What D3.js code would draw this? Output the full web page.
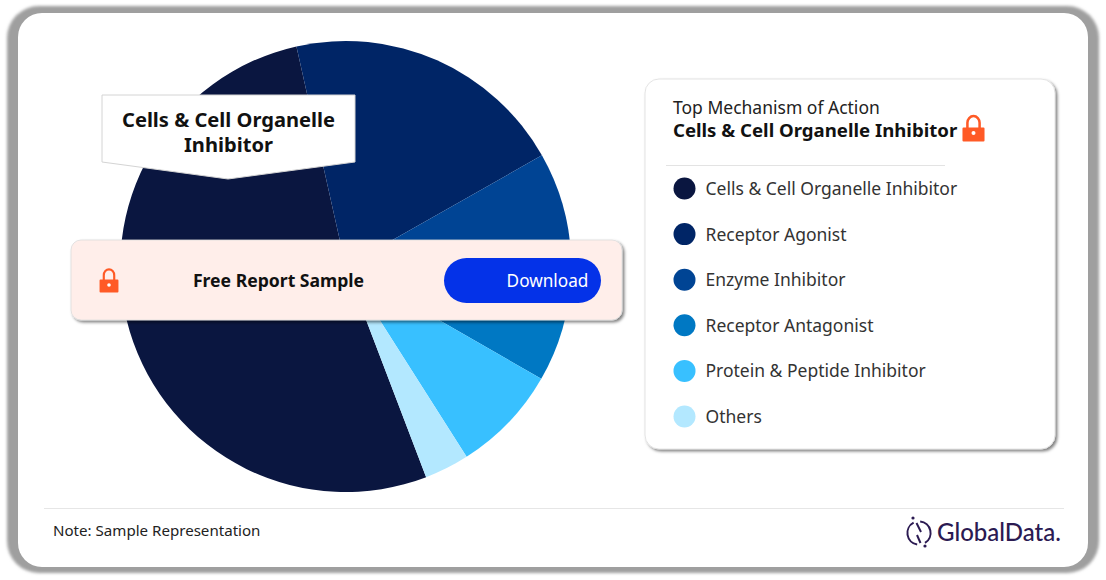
<!DOCTYPE html>
<html>
<head>
<meta charset="utf-8">
<script src="https://cdn.jsdelivr.net/npm/d3@7"></script>
<style>
  html, body { margin: 0; padding: 0; background: #fff; }
  svg { display: block; font-family: "Noto Sans", sans-serif; }
</style>
</head>
<body>
<div id="chart"></div>
<script>
"use strict";

// Data.
const categories = ["Cells & Cell Organelle Inhibitor", "Receptor Agonist", "Enzyme Inhibitor",
    "Receptor Antagonist", "Protein & Peptide Inhibitor", "Others"];
const shares = [52.3, 20.3, 8.8, 7.7, 7.7, 3.2];
const sliceColors = ["#0a1640", "#002566", "#004494", "#0078c3", "#38c0ff", "#b3e8ff"];

const width = 1106, height = 580;
const lockPath = "M-9.5,-1.5h19a1,1 0 0 1 1,1v11.5a1,1 0 0 1 -1,1h-19a1,1 0 0 1 -1,-1v-11.5a1,1 0 0 1 1,-1z" +
    "M-7,-1.5v-4.5a7,7.5 0 0 1 14,0v4.5h-2.4v-4.5a4.6,5.1 0 0 0 -9.2,0v4.5z";

const svg = d3.select("#chart").append("svg")
    .attr("width", width)
    .attr("height", height);

// Shadows
const defs = svg.append("defs");
defs.append("filter").attr("id", "cardShadow")
    .attr("x", "-10%").attr("y", "-10%").attr("width", "120%").attr("height", "125%")
    .append("feDropShadow")
    .attr("dx", 2).attr("dy", 2).attr("stdDeviation", 1.5)
    .attr("flood-color", "#000").attr("flood-opacity", 0.5);
defs.append("filter").attr("id", "frameBlur")
    .append("feGaussianBlur").attr("stdDeviation", 1.6);

// Outer frame
svg.append("rect")
    .attr("x", 7).attr("y", 6).attr("width", 1092).attr("height", 567).attr("rx", 32)
    .attr("fill", "#9f9f9f")
    .attr("filter", "url(#frameBlur)");
svg.append("rect")
    .attr("x", 18).attr("y", 13).attr("width", 1070).attr("height", 554).attr("rx", 24)
    .attr("fill", "#fff");

// Pie
const pieCx = 345.7, pieCy = 266.5, pieR = 225.5;
const pie = d3.pie().sort(null)
    .startAngle(159.1 * Math.PI / 180)
    .endAngle((159.1 + 360) * Math.PI / 180);
const arc = d3.arc().innerRadius(0).outerRadius(pieR);
const color = d3.scaleOrdinal().domain(categories).range(sliceColors);

svg.append("g").attr("class", "slices")
    .attr("transform", "translate(" + pieCx + "," + pieCy + ")")
    .selectAll("path")
    .data(pie(shares))
    .enter().append("path")
    .attr("d", arc)
    .attr("fill", (d, i) => color(categories[i]));

// Callout on the pie
const callout = svg.append("g");
callout.append("path")
    .attr("d", "M102,95H355V162L228,179L102,162Z")
    .attr("fill", "#fff").attr("stroke", "#d4d4d4").attr("stroke-width", 1);
callout.selectAll("text")
    .data(["Cells & Cell Organelle", "Inhibitor"])
    .enter().append("text")
    .attr("x", 228.5)
    .attr("y", (d, i) => 127 + i * 25)
    .attr("text-anchor", "middle")
    .attr("font-size", 20.1).attr("font-weight", 700).attr("fill", "#111")
    .text(d => d);

// Download banner
const banner = svg.append("g");
banner.append("rect")
    .attr("x", 71).attr("y", 240).attr("width", 551).attr("height", 80).attr("rx", 10)
    .attr("fill", "#ffeeea").attr("stroke", "#ddd").attr("stroke-width", 0.8)
    .attr("filter", "url(#cardShadow)");
banner.append("path").attr("d", lockPath).attr("fill", "#ff5a26")
    .attr("transform", "translate(109,281) scale(0.9,0.95)");
banner.append("circle").attr("cx", 109).attr("cy", 285).attr("r", 1.8).attr("fill", "#fff");
banner.append("text")
    .attr("x", 278.5).attr("y", 286.5).attr("text-anchor", "middle")
    .attr("font-size", 17.6).attr("font-weight", 700).attr("fill", "#111")
    .text("Free Report Sample");
banner.append("rect")
    .attr("x", 444).attr("y", 258).attr("width", 157).attr("height", 45).attr("rx", 22.5)
    .attr("fill", "#0432e8");
banner.append("text")
    .attr("x", 547.5).attr("y", 287).attr("text-anchor", "middle")
    .attr("font-size", 17.2).attr("fill", "#fff")
    .text("Download");

// Legend card
const card = svg.append("g");
card.append("rect")
    .attr("x", 645).attr("y", 79).attr("width", 410).attr("height", 370).attr("rx", 14)
    .attr("fill", "#fff").attr("stroke", "#ddd").attr("stroke-width", 0.8)
    .attr("filter", "url(#cardShadow)");
card.append("text")
    .attr("x", 673).attr("y", 113.5)
    .attr("font-size", 17.5).attr("fill", "#222")
    .text("Top Mechanism of Action");
card.append("text")
    .attr("x", 673).attr("y", 137)
    .attr("font-size", 18.6).attr("font-weight", 700).attr("fill", "#111")
    .text("Cells & Cell Organelle Inhibitor");
card.append("path").attr("d", lockPath).attr("fill", "#ff5a26")
    .attr("transform", "translate(973.5,129) scale(1.05,1.05)");
card.append("circle").attr("cx", 973.5).attr("cy", 133).attr("r", 2).attr("fill", "#fff");
card.append("line")
    .attr("x1", 666).attr("x2", 945).attr("y1", 165.5).attr("y2", 165.5)
    .attr("stroke", "#e3e3e3").attr("stroke-width", 1);

const legendY = d3.scalePoint().domain(categories).range([188.5, 416.5]);
const legendRow = card.selectAll("g.row")
    .data(categories)
    .enter().append("g").attr("class", "row")
    .attr("transform", d => "translate(0," + legendY(d) + ")");
legendRow.append("circle")
    .attr("cx", 684.5).attr("r", 11)
    .attr("fill", d => color(d));
legendRow.append("text")
    .attr("x", 705.5).attr("y", 6.5)
    .attr("font-size", 17.5).attr("fill", "#333")
    .text(d => d);

// Footer
svg.append("line")
    .attr("x1", 44).attr("x2", 1064).attr("y1", 508.5).attr("y2", 508.5)
    .attr("stroke", "#e6e6e6").attr("stroke-width", 1);
svg.append("text")
    .attr("x", 53).attr("y", 536)
    .attr("font-size", 15.1).attr("fill", "#222")
    .text("Note: Sample Representation");

// GlobalData logo
const logoColor = "#2b1a52";
const logo = svg.append("g").attr("transform", "translate(919,533)");
const logoArc = d3.arc().innerRadius(10.6).outerRadius(12.6);
logo.selectAll("path.ring")
    .data([[0.1, 2.6], [3.3, 5.8]])
    .enter().append("path").attr("class", "ring")
    .attr("d", d => logoArc({ startAngle: d[0], endAngle: d[1] }))
    .attr("fill", logoColor);
logo.selectAll("path.slash")
    .data(["M-2.5,-10L2,-1", "M-2,2L1.5,10"])
    .enter().append("path").attr("class", "slash")
    .attr("d", d => d)
    .attr("fill", "none").attr("stroke", logoColor).attr("stroke-width", 2);
logo.selectAll("circle")
    .data([[-6, -15], [6, 13]])
    .enter().append("circle")
    .attr("cx", d => d[0]).attr("cy", d => d[1]).attr("r", 1.6)
    .attr("fill", logoColor);
svg.append("text")
    .attr("x", 937).attr("y", 541)
    .attr("font-family", "Lato, sans-serif")
    .attr("font-size", 24).attr("font-weight", 500).attr("fill", logoColor)
    .text("GlobalData.");
</script>
</body>
</html>
